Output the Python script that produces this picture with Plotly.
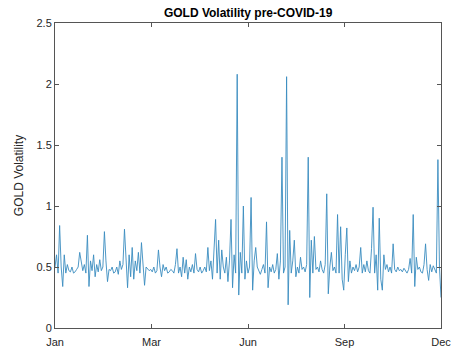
import plotly.graph_objects as go

volatility = [
    0.50, 0.60, 0.45, 0.84, 0.50, 0.34, 0.60, 0.45, 0.52, 0.47,
    0.46, 0.50, 0.45, 0.46, 0.48, 0.50, 0.62, 0.55, 0.47, 0.52,
    0.45, 0.76, 0.34, 0.55, 0.47, 0.60, 0.42, 0.52, 0.46, 0.56,
    0.47, 0.50, 0.79, 0.55, 0.38, 0.48, 0.47, 0.50, 0.45, 0.46,
    0.50, 0.44, 0.55, 0.48, 0.52, 0.81, 0.50, 0.33, 0.60, 0.42,
    0.66, 0.40, 0.55, 0.47, 0.62, 0.45, 0.70, 0.48, 0.35, 0.50,
    0.48, 0.47, 0.48, 0.46, 0.50, 0.45, 0.47, 0.64, 0.50, 0.42,
    0.52, 0.47, 0.50, 0.45, 0.46, 0.48, 0.47, 0.45, 0.52, 0.65,
    0.45, 0.50, 0.42, 0.58, 0.45, 0.56, 0.40, 0.50, 0.46, 0.52,
    0.45, 0.61, 0.48, 0.46, 0.50, 0.45, 0.47, 0.50, 0.46, 0.66,
    0.47, 0.55, 0.40, 0.60, 0.89, 0.45, 0.72, 0.40, 0.64, 0.50,
    0.45, 0.58, 0.38, 0.55, 0.89, 0.33, 0.60, 0.45, 2.08, 0.27,
    0.62, 0.45, 1.00, 0.40, 0.55, 0.45, 0.50, 1.07, 0.31, 0.55,
    0.66, 0.50, 0.47, 0.44, 0.48, 0.52, 0.45, 0.87, 0.33, 0.50,
    0.46, 0.52, 0.45, 0.48, 0.61, 0.40, 0.55, 1.40, 0.45, 0.50,
    2.06, 0.19, 0.80, 0.45, 0.55, 0.72, 0.42, 0.50, 0.45, 0.58,
    0.48, 0.50, 0.46, 0.52, 1.40, 0.25, 0.72, 0.45, 0.75, 0.48,
    0.50, 0.46, 0.55, 0.48, 0.45, 0.52, 1.10, 0.28, 0.50, 0.62,
    0.47, 0.50, 0.45, 0.93, 0.45, 0.83, 0.40, 0.31, 0.60, 0.82,
    0.38, 0.55, 0.45, 0.50, 0.47, 0.52, 0.46, 0.50, 0.66, 0.45,
    0.52, 0.46, 0.55, 0.47, 0.45, 0.65, 0.99, 0.45, 0.60, 0.31,
    0.90, 0.40, 0.31, 0.60, 0.48, 0.52, 0.46, 0.50, 0.45, 0.69,
    0.48, 0.46, 0.50, 0.47, 0.48, 0.46, 0.49, 0.47, 0.45, 0.48,
    0.57, 0.45, 0.93, 0.34, 0.58, 0.48, 0.50, 0.46, 0.45, 0.52,
    0.69, 0.48, 0.39, 0.52, 0.46, 0.51, 0.48, 0.45, 1.38, 0.50,
    0.25,
]
day_index = list(range(len(volatility)))
n_last = len(volatility) - 1
tick_labels = ["Jan", "Mar", "Jun", "Sep", "Dec"]
tick_positions = [n_last * i / 4 for i in range(5)]
y_ticks = [0, 0.5, 1, 1.5, 2, 2.5]

fig = go.Figure()
fig.add_trace(go.Scatter(
    x=day_index, y=volatility, mode="lines",
    line=dict(color="#3A8CC0", width=0.9),
    showlegend=False,
))

axis_common = dict(
    showgrid=False, zeroline=False, showline=True, linecolor="#555555",
    linewidth=1, mirror="ticks", ticks="inside", ticklen=4, tickcolor="#555555",
    automargin=False, ticklabeloverflow="allow",
    tickfont=dict(family="Liberation Sans, Arial", size=11, color="#262626"),
)

fig.update_layout(
    width=457, height=357,
    margin=dict(l=55, r=16, t=23, b=29),
    paper_bgcolor="white", plot_bgcolor="white",
    title=dict(text="<b>GOLD Volatility pre-COVID-19</b>", x=0.543, xanchor="center",
               y=0.963, yanchor="middle",
               font=dict(family="Liberation Sans, Arial", size=12, color="black")),
    xaxis=dict(range=[0, n_last], tickvals=tick_positions, ticktext=tick_labels,
               ticklabelstandoff=4, **axis_common),
    yaxis=dict(range=[0, 2.5], tickvals=y_ticks, ticktext=["0", "0.5", "1", "1.5", "2", "2.5"],
               title=dict(text="GOLD Volatility", standoff=10,
                          font=dict(family="Liberation Sans, Arial", size=12, color="#262626")),
               **axis_common),
)

fig.write_html(
    "out.html",
    config={"displayModeBar": False},
    post_script=("document.body.style.margin='0';document.body.style.overflow='hidden';"
                 "document.documentElement.style.overflow='hidden';"),
)
